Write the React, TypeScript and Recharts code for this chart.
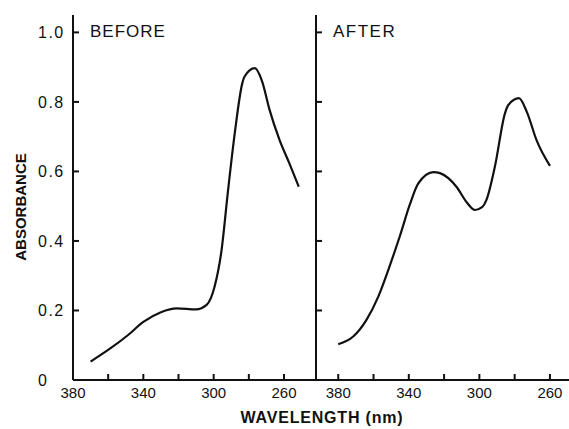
import { LineChart, Line, XAxis, YAxis } from "recharts"

const beforeWavelength = [370, 359, 349, 340, 330, 321, 310, 304, 299.5, 295.5, 292, 288, 283.7, 282.4, 276.6, 272.5, 268.2, 262.5, 257, 251.6]
const beforeAbsorbance = [0.053, 0.09, 0.128, 0.167, 0.195, 0.206, 0.203, 0.216, 0.268, 0.374, 0.537, 0.71, 0.854, 0.873, 0.897, 0.86, 0.777, 0.69, 0.624, 0.556]

const afterWavelength = [380, 371.5, 364, 357.3, 350.7, 345, 339.4, 334.7, 326, 322.4, 313, 307, 302.5, 298.5, 296, 291.2, 285.5, 283.6, 277.6, 273, 267.6, 260]
const afterAbsorbance = [0.103, 0.125, 0.173, 0.24, 0.33, 0.415, 0.505, 0.565, 0.598, 0.595, 0.556, 0.51, 0.489, 0.497, 0.518, 0.614, 0.767, 0.791, 0.811, 0.77, 0.69, 0.616]

const xTicks = [380, 360, 340, 320, 300, 280, 260]
const yTicks = [0, 0.2, 0.4, 0.6, 0.8, 1.0]

const before = beforeWavelength.map((w, i) => ({ w, a: beforeAbsorbance[i] }))
const after = afterWavelength.map((w, i) => ({ w, a: afterAbsorbance[i] }))

const ink = "#111"
const font = "'Liberation Sans', Arial, sans-serif"

function XTick({ x, y, payload }: any) {
  const v = payload.value
  const labelled = (380 - v) % 40 === 0
  return (
    <g>
      <line x1={x} x2={x} y1={y} y2={y - 6} stroke={ink} strokeWidth={2} />
      {labelled && (
        <text x={x} y={y + 18} textAnchor="middle" fontSize={15} fontFamily={font} fill={ink}>
          {v}
        </text>
      )}
    </g>
  )
}

function YTickLabelled({ x, y, payload }: any) {
  const v = payload.value
  return (
    <g>
      <line x1={x} x2={x + 6} y1={y} y2={y} stroke={ink} strokeWidth={2} />
      <text x={x - 35} y={y + 6} fontSize={16} letterSpacing={1.5} fontFamily={font} fill={ink}>
        {v === 0 ? "0" : v.toFixed(1)}
      </text>
    </g>
  )
}

function YTickPlain({ x, y }: any) {
  return <line x1={x} x2={x + 6} y1={y} y2={y} stroke={ink} strokeWidth={2} />
}

export default function App() {
  return (
    <div style={{ position: "fixed", left: 0, top: 0, width: 569, height: 429, background: "#fff" }}>
      <div style={{ position: "absolute", left: 0, top: 0 }}>
        <LineChart width={316} height={429} data={before} margin={{ top: 15, right: 0, bottom: 0, left: 0 }}>
          <XAxis
            dataKey="w" type="number" domain={[241.8, 380]} reversed ticks={xTicks} interval={0}
            height={49} tickSize={0} tickMargin={0} tick={<XTick />}
            axisLine={{ stroke: ink, strokeWidth: 2 }} allowDataOverflow
          />
          <YAxis
            type="number" domain={[0, 1.05]} ticks={yTicks} interval={0} width={73}
            tickSize={0} tickMargin={0} tick={<YTickLabelled />}
            axisLine={{ stroke: ink, strokeWidth: 2 }} allowDataOverflow
          />
          <Line dataKey="a" type="monotone" stroke={ink} strokeWidth={2.2} dot={false} isAnimationActive={false} />
        </LineChart>
      </div>
      <div style={{ position: "absolute", left: 290, top: 0 }}>
        <LineChart width={279} height={429} data={after} margin={{ top: 15, right: 0, bottom: 0, left: 0 }}>
          <XAxis
            dataKey="w" type="number" domain={[249.2, 392.6]} reversed ticks={xTicks} interval={0}
            height={49} tickSize={0} tickMargin={0} tick={<XTick />}
            axisLine={{ stroke: ink, strokeWidth: 2 }} allowDataOverflow
          />
          <YAxis
            type="number" domain={[0, 1.05]} ticks={yTicks} interval={0} width={26}
            tickSize={0} tickMargin={0} tick={<YTickPlain />}
            axisLine={{ stroke: ink, strokeWidth: 2 }} allowDataOverflow
          />
          <Line dataKey="a" type="monotone" stroke={ink} strokeWidth={2.2} dot={false} isAnimationActive={false} />
        </LineChart>
      </div>
      <svg width={569} height={429} style={{ position: "absolute", left: 0, top: 0, pointerEvents: "none" }}>
        <text x={90} y={37} fontSize={17} letterSpacing={1} fontFamily={font} fill={ink}>BEFORE</text>
        <text x={333} y={37} fontSize={17} letterSpacing={1.5} fontFamily={font} fill={ink}>AFTER</text>
        <text
          transform="translate(26,207) rotate(-90)" textAnchor="middle"
          fontSize={15} fontWeight="bold" fontFamily={font} fill={ink}
        >
          ABSORBANCE
        </text>
        <text x={322} y={423} textAnchor="middle" fontSize={16} fontWeight="bold" letterSpacing={0.8} fontFamily={font} fill={ink}>
          WAVELENGTH (nm)
        </text>
      </svg>
    </div>
  )
}
